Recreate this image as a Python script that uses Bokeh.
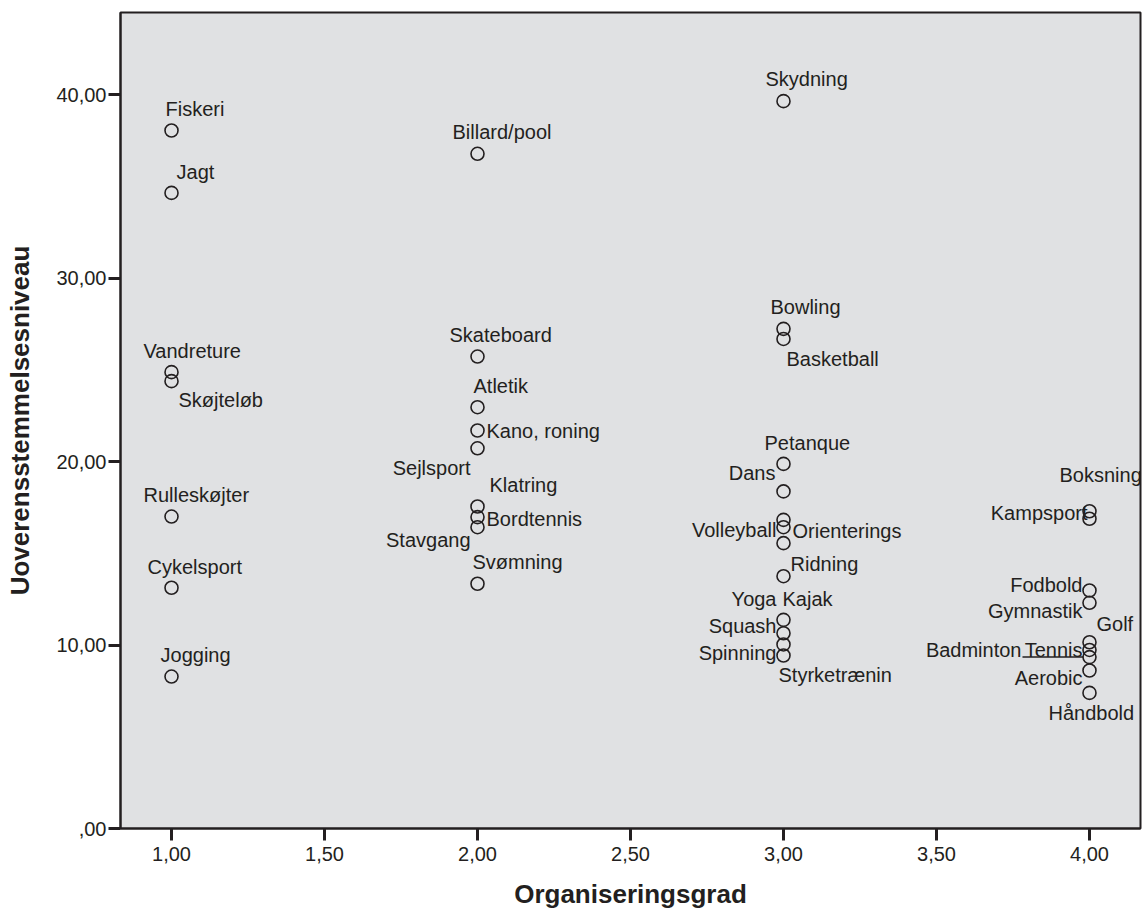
from bokeh.plotting import figure
from bokeh.models import ColumnDataSource, Range1d, FixedTicker
from bokeh.core.properties import value
from bokeh.embed import file_html
from bokeh.resources import INLINE

# ---- data ----
sports = ["Fiskeri", "Jagt", "Vandreture", "Skøjteløb", "Rulleskøjter", "Cykelsport", "Jogging",
          "Billard/pool", "Skateboard", "Atletik", "Kano, roning", "Sejlsport", "Klatring",
          "Bordtennis", "Stavgang", "Svømning",
          "Skydning", "Bowling", "Basketball", "Petanque", "Dans", "Orienterings", "Volleyball",
          "Ridning", "Yoga", "Kajak", "Squash", "Spinning", "Styrketrænin",
          "Boksning", "Kampsport", "Fodbold", "Gymnastik", "Golf", "Tennis", "Badminton",
          "Aerobic", "Håndbold"]
organiseringsgrad = [1, 1, 1, 1, 1, 1, 1,
                     2, 2, 2, 2, 2, 2, 2, 2, 2,
                     3, 3, 3, 3, 3, 3, 3, 3, 3, 3, 3, 3, 3,
                     4, 4, 4, 4, 4, 4, 4, 4, 4]
uoverensstemmelse = [38.04, 34.64, 24.87, 24.38, 17.00, 13.12, 8.28,
                     36.77, 25.72, 22.96, 21.69, 20.72, 17.55, 16.97, 16.42, 13.34,
                     39.64, 27.23, 26.68, 19.87, 18.37, 16.82, 16.42, 15.55, 13.75, 11.37,
                     10.64, 10.03, 9.43,
                     17.29, 16.88, 12.97, 12.30, 10.15, 9.73, 9.34, 8.61, 7.39]
x_ticks = [1.0, 1.5, 2.0, 2.5, 3.0, 3.5, 4.0]
x_tick_labels = ["1,00", "1,50", "2,00", "2,50", "3,00", "3,50", "4,00"]
y_ticks = [0, 10, 20, 30, 40]
y_tick_labels = [",00", "10,00", "20,00", "30,00", "40,00"]

# ---- label placement (screen pixels relative to the point) ----
label_dx = [-6, 5, -28, 7, -28, -24, -11,
            -25, -28, -4, 9, -7, 12, 9, -7, -5,
            -18, -13, 3, -19, -8, 9, -7, 7, -7, -1, -7, -7, -5,
            -30, -2, -7, -7, 7, -7, -68, -7, -41]
label_dy = [-21, -21, -21, 19, -22, -21, -22,
            -22, -22, -21, 0, 20, -21, 2, 13, -22,
            -22, -22, 20, -21, -18, 11, 3, 21, 23, -21, -7, 9, 20,
            -36, -6, -6, 8, -18, 0, -7, 7, 20]
label_align = ["left", "left", "left", "left", "left", "left", "left",
               "left", "left", "left", "left", "right", "left", "left", "right", "left",
               "left", "left", "left", "left", "right", "left", "right", "left", "right",
               "left", "right", "right", "left",
               "left", "right", "right", "right", "left", "right", "right", "right", "left"]

INK = "#231F20"
BG = "#E0E1E3"
FONT = "Liberation Sans"

x_start, x_end = 0.8333, 4.1667
y_start, y_end = 0.0, 44.47
W, H = 1142, 914
ML, MR, MT, MB = 120, 2, 12, 86
frame_w = W - ML - MR

p = figure(width=W, height=H, output_backend="svg", toolbar_location=None,
           x_range=Range1d(x_start, x_end), y_range=Range1d(y_start, y_end),
           min_border_left=ML, min_border_right=MR, min_border_top=MT, min_border_bottom=MB,
           background_fill_color=BG, border_fill_color="white")
p.grid.visible = False
p.outline_line_color = INK
p.outline_line_width = 2

src = ColumnDataSource(dict(x=organiseringsgrad, y=uoverensstemmelse, name=sports,
                            dx=label_dx, dy=label_dy, align=label_align))

# leader line from the Badminton label to its point
bi = sports.index("Badminton")
px_per_unit = frame_w / (x_end - x_start)
bx, by = organiseringsgrad[bi], uoverensstemmelse[bi]
p.segment(x0=[bx - 67 / px_per_unit], y0=[by], x1=[bx - 6 / px_per_unit], y1=[by],
          line_color=INK, line_width=1.5)

p.scatter("x", "y", source=src, size=13, marker="circle", fill_color=None,
          line_color=INK, line_width=1.6)
p.text("x", "y", text="name", source=src, x_offset="dx", y_offset="dy",
       text_align="align", text_baseline="middle",
       text_font=value(FONT), text_font_size="20px", text_color=INK)

for ax in (p.xaxis[0], p.yaxis[0]):
    ax.axis_line_color = INK
    ax.axis_line_width = 2
    ax.major_tick_line_color = INK
    ax.major_tick_line_width = 3
    ax.major_tick_out = 12
    ax.major_tick_in = 0
    ax.minor_tick_line_color = None
    ax.major_label_text_font = FONT
    ax.major_label_text_font_size = "20px"
    ax.major_label_text_color = INK
    ax.axis_label_text_font = FONT
    ax.axis_label_text_font_size = "26px"
    ax.axis_label_text_font_style = "bold"
    ax.axis_label_text_color = INK

p.xaxis.ticker = FixedTicker(ticks=x_ticks)
p.xaxis.major_label_overrides = dict(zip(x_ticks, x_tick_labels))
p.xaxis.major_label_standoff = 6
p.xaxis.axis_label = "Organiseringsgrad"
p.xaxis.axis_label_standoff = 15

p.yaxis.ticker = FixedTicker(ticks=y_ticks)
p.yaxis.major_label_overrides = dict(zip(y_ticks, y_tick_labels))
p.yaxis.major_label_standoff = 2
p.yaxis.axis_label = "Uoverensstemmelsesniveau"
p.yaxis.axis_label_standoff = 18

open("out.html", "w").write(file_html(p, INLINE))
